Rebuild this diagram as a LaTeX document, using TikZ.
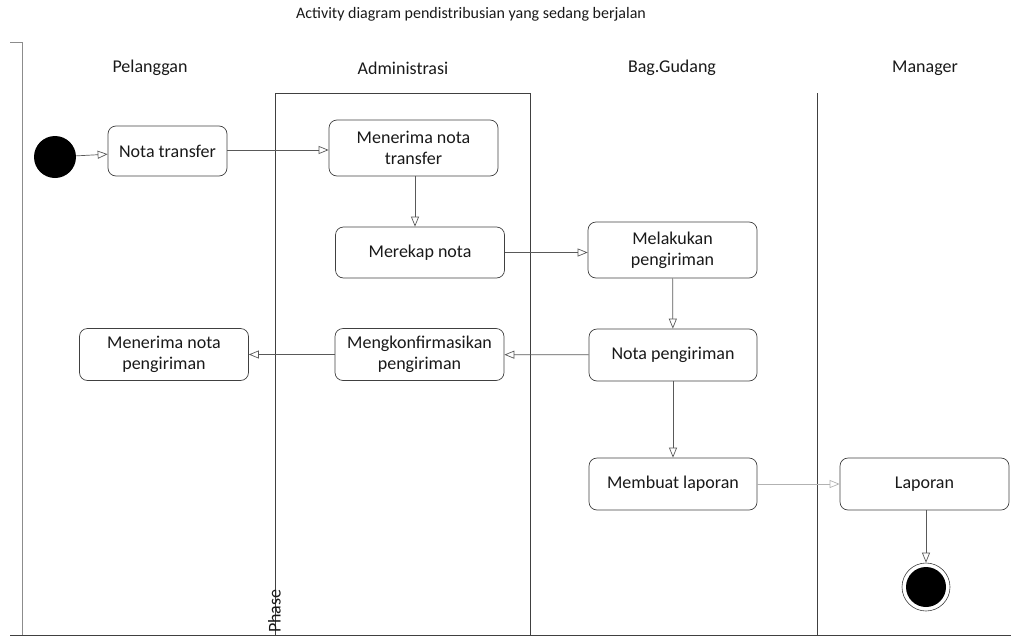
\documentclass[tikz,border=0pt]{standalone}
\usepackage{fontspec}
\setmainfont{Carlito}
\usetikzlibrary{arrows.meta,positioning}

\begin{document}
\begin{tikzpicture}[
  x=1pt,y=-1pt,
  font=\fontsize{18}{21}\selectfont,
  >={Triangle[open,length=10pt,width=8pt]},
  act/.style={draw=black!75, rounded corners=8pt, align=center, line width=0.7pt,
              minimum width=169pt, minimum height=52pt, inner sep=2pt, text=black!90},
  lane/.style={draw=black!75, line width=0.8pt},
  flow/.style={->, draw=black!65, line width=0.7pt},
  lab/.style={text=black!90, inner sep=1pt},
]
\useasboundingbox (0,0) rectangle (1011,637);

%% ---------- FRAME AND LANES ----------
\node[lab, font=\fontsize{16}{18}\selectfont] (title) at (471,14) {Activity diagram pendistribusian yang sedang berjalan};
\draw[draw=black!45, line width=0.9pt] (10,42) -- (22,42) -- (22,635);
\draw[lane] (10,635) -- (1011,635);
\draw[lane] (275,635) -- (275,93) -- (530,93) -- (530,635);
\draw[lane] (817,93) -- (817,635);
\node[lab] (pel) at (150,68) {Pelanggan};
\node[lab] (adm) at (403,68) {Administrasi};
\node[lab] (gud) at (672,68) {Bag.Gudang};
\node[lab] (man) at (925,68) {Manager};
\node[lab, rotate=90, anchor=south west, inner sep=0pt] (phase) at (281,633) {Phase};

%% ---------- ACTIVITIES ----------
\node[circle, fill=black, minimum size=42pt, inner sep=0pt] (start) at (55,157) {};
\node[act, minimum width=119pt, minimum height=50pt] (nota) at (167.5,151) {Nota transfer};
\node[act, minimum height=56pt] (terima) at (413.5,148) {Menerima nota\\transfer};
\node[act, minimum height=51pt] (rekap) at (420,252.5) {Merekap nota};
\node[act, minimum height=56pt] (kirim) at (672.5,250) {Melakukan\\pengiriman};
\node[act, minimum width=168pt] (npeng) at (673,355) {Nota pengiriman};
\node[act] (konf) at (419.5,354.5) {Mengkonfirmasikan\\pengiriman};
\node[act] (tpeng) at (164,354.5) {Menerima nota\\pengiriman};
\node[act, minimum width=168pt] (lapor) at (673,484) {Membuat laporan};
\node[act] (laporan) at (924.5,484) {Laporan};
\node[circle, draw=black!75, line width=0.6pt, minimum size=48pt, inner sep=0pt] (stop) at (926,587) {};
\node[circle, fill=black, minimum size=40pt, inner sep=0pt] at (stop.center) {};

%% ---------- FLOWS ----------
\draw[flow] (start) -- (nota);
\draw[flow] (nota.east |- 0,150) -- (terima.west |- 0,150);
\draw[flow] (terima.south -| 415,0) -- (rekap.north -| 415,0);
\draw[flow] (rekap) -- (kirim.west |- rekap);
\draw[flow] (kirim) -- (npeng);
\draw[flow] (npeng) -- (konf);
\draw[flow] (konf) -- (tpeng);
\draw[flow] (npeng) -- (lapor);
\draw[flow, draw=black!30] (lapor) -- (laporan);
\draw[flow] (laporan.south -| stop) -- (stop);
\end{tikzpicture}
\end{document}
